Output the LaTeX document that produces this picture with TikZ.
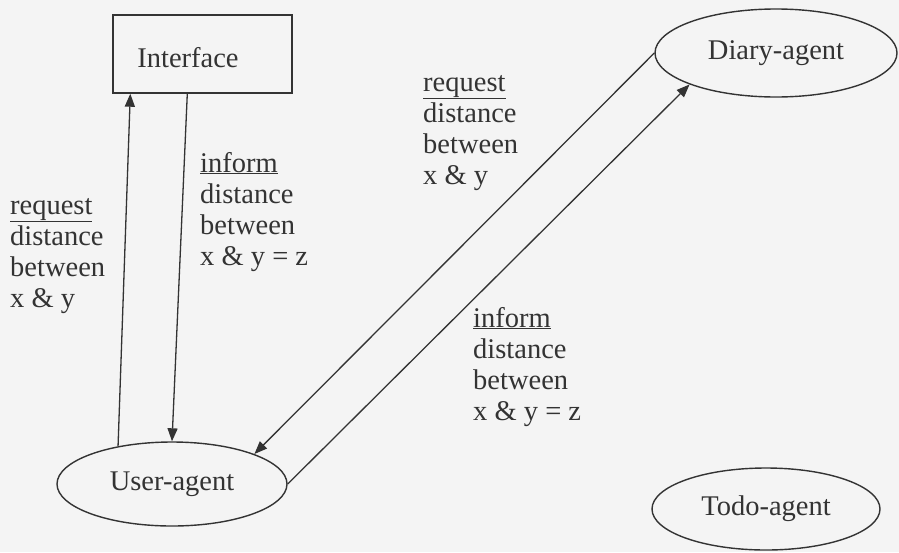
\documentclass[tikz,border=0pt]{standalone}
\usepackage{fontspec}
\setmainfont{Liberation Serif}
\usetikzlibrary{arrows.meta,shapes.geometric}
\definecolor{ink}{HTML}{333333}
\definecolor{paper}{HTML}{F4F4F4}
\tikzset{
  lbl/.style={anchor=base west, align=left, inner sep=0pt, text=ink,
    font=\fontsize{28.5}{31}\selectfont},
  nodetext/.style={inner sep=0pt, text=ink, font=\fontsize{28.5}{31}\selectfont},
  agent/.style={draw=ink, line width=1.4pt, ellipse, inner sep=0pt, text=ink,
    font=\fontsize{28.5}{31}\selectfont},
  msg/.style={draw=ink, line width=1.3pt, -{Triangle[length=13pt,width=10pt]}},
}
\begin{document}
\begin{tikzpicture}[x=1pt,y=-1pt]
\fill[paper] (0,0) rectangle (899,552);
\useasboundingbox (0,0) rectangle (899,552);
% nodes
\node[draw=ink, line width=1.4pt, minimum width=179pt, minimum height=78pt, inner sep=0pt] (iface) at (202.5,54) {};
\node[nodetext] (ifacetxt) at (188,58) {Interface};
\node[agent, minimum width=230pt, minimum height=84pt] (ua) at (172,484) {User-agent};
\node[agent, minimum width=242pt, minimum height=88pt] (da) at (776,53) {Diary-agent};
\node[agent, minimum width=228pt, minimum height=82pt] (ta) at (766,509) {Todo-agent};
\coordinate (ifl) at ([xshift=18pt]iface.south west);
\coordinate (ifr) at ([xshift=75pt]iface.south west);
% connectors
\draw[msg] (ua.145) -- (ifl);
\draw[msg] (ifr) -- (ua.90);
\draw[msg] (ua.east) -- (da.200);
\draw[msg] (da.west) -- (ua.20);
% labels (anchor = baseline of last line)
\node[lbl] (l1) at (10,307) {\underline{request}\\distance\\between\\x \& y};
\node[lbl] (l2) at (200,265) {\underline{inform}\\distance\\between\\x \& y = z};
\node[lbl] (l3) at (423,184) {\underline{request}\\distance\\between\\x \& y};
\node[lbl] (l4) at (473,420) {\underline{inform}\\distance\\between\\x \& y = z};
\end{tikzpicture}
\end{document}
